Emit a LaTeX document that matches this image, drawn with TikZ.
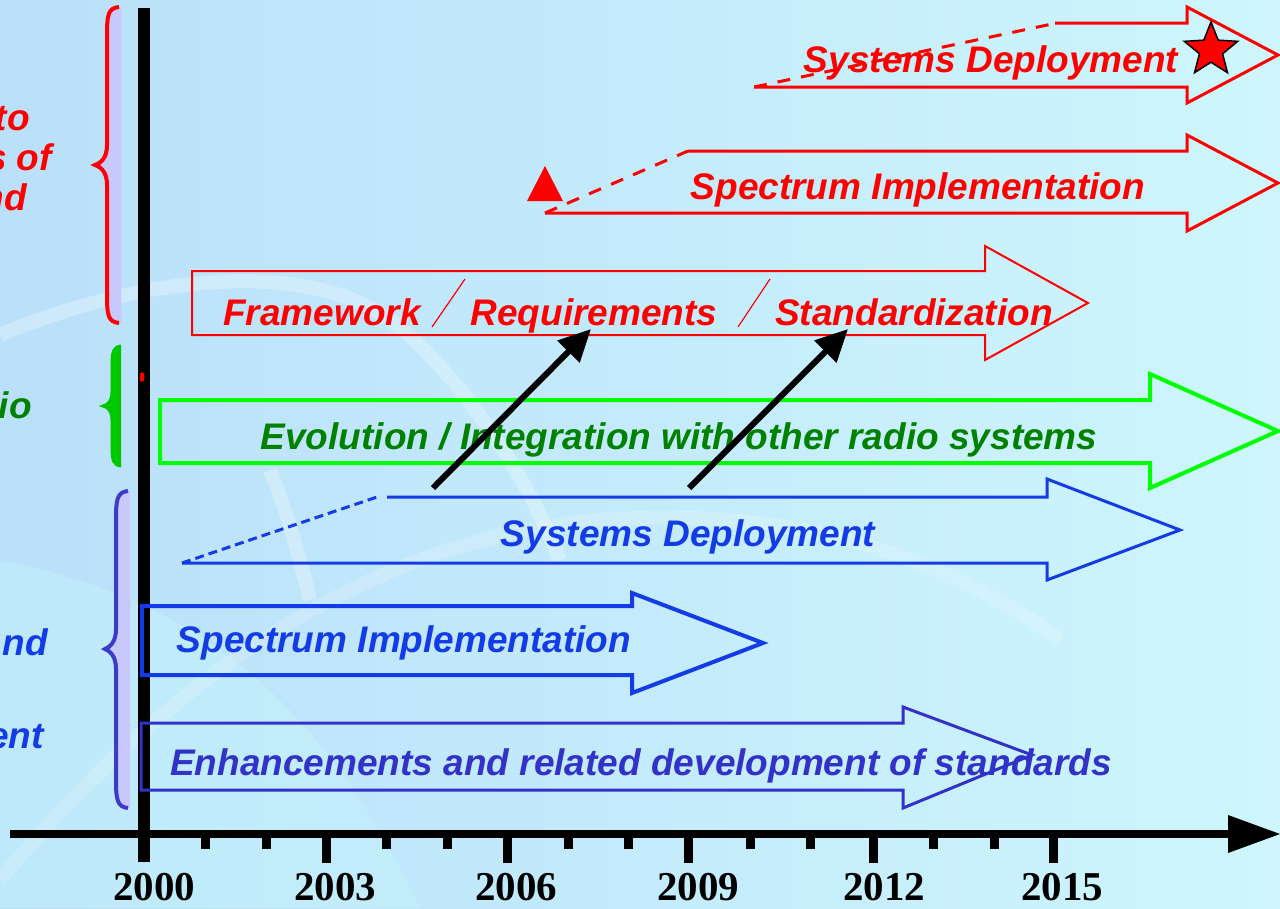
\documentclass[tikz,border=0pt]{standalone}
\usepackage{fontspec}
\setmainfont{Liberation Sans}
\newfontfamily\tnr{Liberation Serif}
\usetikzlibrary{arrows.meta,shapes.geometric}
\definecolor{bgL}{RGB}{186,224,250}
\definecolor{bgR}{RGB}{206,246,252}
\definecolor{rd}{RGB}{255,0,0}
\definecolor{gr}{RGB}{0,255,0}
\definecolor{grT}{RGB}{0,130,0}
\definecolor{bl}{RGB}{20,60,230}
\definecolor{blE}{RGB}{50,50,200}
\definecolor{lav}{RGB}{200,200,250}
\definecolor{brB}{RGB}{60,60,200}
\definecolor{brG}{RGB}{0,200,0}
\definecolor{cy}{RGB}{200,250,252}
\begin{document}
\begin{tikzpicture}[x=1pt,y=-1pt,
  lbl/.style={font=\fontsize{37}{40}\selectfont\bfseries\itshape, inner sep=0pt, anchor=base},
  frag/.style={font=\fontsize{37}{40}\selectfont\bfseries\itshape, inner sep=0pt, anchor=base east},
  yr/.style={font=\tnr\fontsize{41}{43}\selectfont\bfseries, inner sep=0pt, anchor=base},
  shaft/.style={line width=#1, line join=miter},
  dashline/.style={line width=#1, dash pattern=on 13pt off 11pt},
  axisline/.style={line width=8pt, black},
  minortick/.style={line width=9pt, black},
  majortick/.style={line width=9pt, black},
  bigarrow/.style={line width=6pt, black, -{Triangle[length=32pt,width=30pt]}},
  bg arc/.style={white, opacity=0.28, line width=14pt}
]
\useasboundingbox (0,0) rectangle (1280,908);
% background
\shade[left color=bgL, right color=bgR] (0,0) rectangle (1280,908);
\fill[cy, opacity=0.35] (0,560) .. controls (200,600) and (320,700) .. (420,908) -- (0,908) -- cycle;
\draw[bg arc] (0,335) .. controls (130,280) and (300,255) .. (390,320) .. controls (450,365) and (520,460) .. (560,560);
\draw[bg arc] (270,470) .. controls (290,520) and (300,560) .. (310,600);
\draw[bg arc, opacity=0.18] (0,880) .. controls (150,700) and (350,540) .. (600,520) .. controls (800,505) and (950,560) .. (1060,640);

% braces
\fill[lav] (119,7) .. controls (108,8) and (107,15) .. (107,35) -- (107,145) .. controls (107,158) and (101,163) .. (95,165) .. controls (101,167) and (107,172) .. (107,185) -- (107,295) .. controls (107,315) and (108,322) .. (119,323) -- (121,323) -- (121,7) -- cycle;
\draw[rd, line width=4pt] (119,7) .. controls (108,8) and (107,15) .. (107,35) -- (107,145) .. controls (107,158) and (101,163) .. (95,165) .. controls (101,167) and (107,172) .. (107,185) -- (107,295) .. controls (107,315) and (108,322) .. (119,323);

\fill[brG] (121,346) .. controls (113,347) and (112,352) .. (112,366) -- (112,392) .. controls (112,401) and (108,405) .. (103,406) .. controls (108,407) and (112,411) .. (112,420) -- (112,446) .. controls (112,460) and (113,465) .. (121,466) -- cycle;
\draw[brG, line width=3pt] (121,346) .. controls (113,347) and (112,352) .. (112,366) -- (112,392) .. controls (112,401) and (108,405) .. (103,406) .. controls (108,407) and (112,411) .. (112,420) -- (112,446) .. controls (112,460) and (113,465) .. (121,466);

\fill[lav] (128,491) .. controls (117,492) and (116,500) .. (116,519) -- (116,629) .. controls (116,642) and (110,647) .. (105,649) .. controls (110,651) and (116,656) .. (116,669) -- (116,780) .. controls (116,799) and (117,807) .. (128,808) -- (130,808) -- (130,491) -- cycle;
\draw[brB, line width=4pt] (128,491) .. controls (117,492) and (116,500) .. (116,519) -- (116,629) .. controls (116,642) and (110,647) .. (105,649) .. controls (110,651) and (116,656) .. (116,669) -- (116,780) .. controls (116,799) and (117,807) .. (128,808);

% axes
\draw[line width=12pt] (144,8) -- (144,862);
\fill[rd] (142,377) ellipse (2.5 and 5);
\draw[axisline] (10,834) -- (1232,834);
\fill (1228,815) -- (1280,834) -- (1228,853) -- cycle;
\foreach \x in {205,266,386,447,568,628,750,810,933,994}
  \draw[minortick] (\x,834) -- (\x,849);
\foreach \x in {326,507,688,873,1053}
  \draw[majortick] (\x,834) -- (\x,863);
\node[yr] (y2000) at (154,900) {2000};
\node[yr] (y2003) at (335,900) {2003};
\node[yr] (y2006) at (516,900) {2006};
\node[yr] (y2009) at (698,900) {2009};
\node[yr] (y2012) at (884,900) {2012};
\node[yr] (y2015) at (1062,900) {2015};

% red: systems deployment (top)
\draw[rd, shaft=3pt] (754,87) -- (1187,87) -- (1187,103) -- (1278,55) -- (1187,7) -- (1187,23) -- (1055,23);
\node[lbl, rd] (rsd) at (991,72) {Systems Deployment};
\draw[rd, dashline=3pt] (754,87) -- (1052,24);
\node[star, star points=5, star point ratio=2.3, minimum size=56pt, inner sep=0pt, fill=rd, draw=black, line width=1.5pt] (star) at (1211,50) {};

% red: spectrum implementation
\draw[rd, shaft=3pt] (545,213) -- (1187,213) -- (1187,231) -- (1278,183) -- (1187,135) -- (1187,151) -- (688,151);
\draw[rd, dashline=3pt] (545,213) -- (688,151);
\fill[rd] (545,166) -- (563,201) -- (527,201) -- cycle;
\node[lbl, rd] (rsi) at (918,199) {Spectrum Implementation};

% red: framework
\draw[rd, shaft=2pt] (192,271) -- (985,271) -- (985,246) -- (1088,303) -- (985,360) -- (985,335) -- (192,335) -- cycle;
\node[lbl, rd] (fw) at (322,325) {Framework};
\node[lbl, rd] (rq) at (594,325) {Requirements};
\node[lbl, rd] (sz) at (914,325) {Standardization};
\draw[rd, line width=1.2pt] (465,279) -- (432,327);
\draw[rd, line width=1.2pt] (770,279) -- (738,327);

% green: evolution
\draw[gr, shaft=4pt] (160,400) -- (1150,400) -- (1150,374) -- (1278,431) -- (1150,488) -- (1150,463) -- (160,463) -- cycle;
\node[lbl, grT] (ev) at (679,449) {Evolution / Integration with other radio systems};

% blue: systems deployment
\draw[bl, shaft=3pt] (182,563) -- (1047,563) -- (1047,580) -- (1180,530) -- (1047,479) -- (1047,497) -- (387,497);
\draw[bl, dashline=3pt, dash pattern=on 9pt off 5pt] (182,563) -- (377,497);
\node[lbl, bl] (bsd) at (688,546) {Systems Deployment};

% blue: spectrum implementation
\draw[bl, shaft=4pt] (142,606) -- (632,606) -- (632,593) -- (763,643) -- (632,693) -- (632,675) -- (142,675) -- cycle;
\node[lbl, bl] (bsi) at (404,652) {Spectrum Implementation};

% blue: enhancements
\draw[blE, shaft=3pt] (141,723) -- (903,723) -- (903,707) -- (1032,755) -- (903,808) -- (903,790) -- (141,790) -- cycle;
\node[lbl, blE] (enh) at (641,775) {Enhancements and related development of standards};

% black arrows
\coordinate (s1) at (433,488);
\coordinate (t1) at (591,329);
\coordinate (s2) at (689,488);
\coordinate (t2) at (848,329);
\draw[bigarrow] (s1) -- (t1);
\draw[bigarrow] (s2) -- (t2);

% cut-off left labels
\node[frag, rd] (l1) at (30,130) {to};
\node[frag, rd] (l2) at (52,170) {s of};
\node[frag, rd] (l3) at (27,210) {nd};
\node[frag, grT] (l4) at (32,418) {io};
\node[frag, bl] (l5) at (48,655) {nd};
\node[frag, bl] (l6) at (44,748) {ent};
\end{tikzpicture}
\end{document}
